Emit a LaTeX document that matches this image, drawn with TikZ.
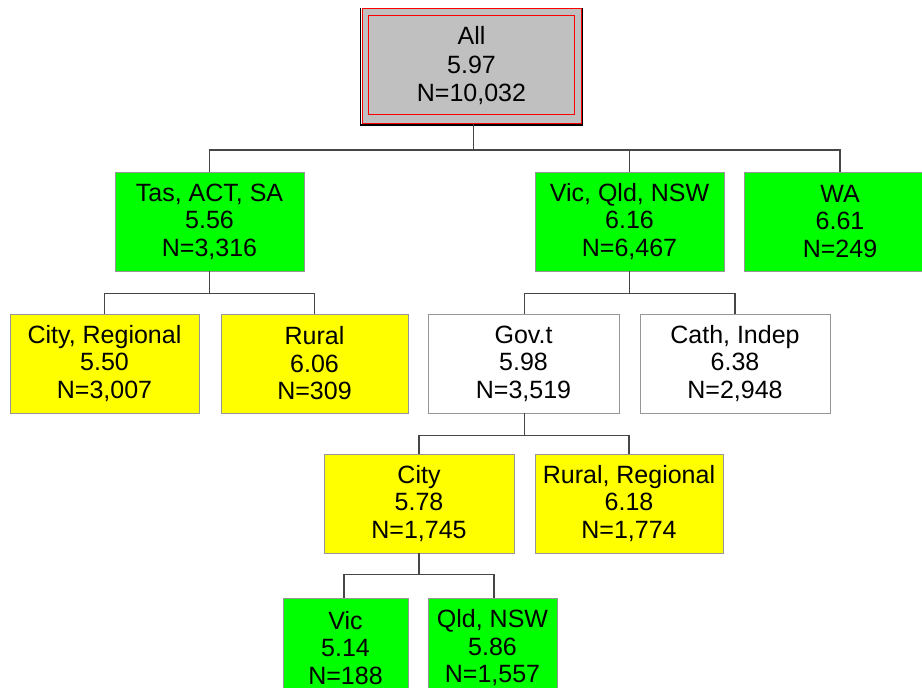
\documentclass[tikz,border=0pt]{standalone}
\usepackage{fontspec}
\setmainfont{Liberation Sans}
\usepackage{xcolor}
\usetikzlibrary{calc,positioning}
\definecolor{green}{rgb}{0.0, 1.0, 0.0}
\definecolor{yellow}{rgb}{1.0, 1.0, 0.0}
\definecolor{silver}{RGB}{192,192,192}
\definecolor{boxline}{RGB}{150,150,150}
\definecolor{linkline}{RGB}{70,70,70}

\begin{document}
\begin{tikzpicture}[x=1pt,y=1pt,
    split/.style={rectangle,draw=boxline,line width=0.9pt,inner sep=2pt,minimum width=189pt,minimum height=99pt,align=center,font=\fontsize{25}{27.5}\selectfont},
    link/.style={draw=linkline,line width=1.2pt}]
    \useasboundingbox (0,0) rectangle (922,688);
    \clip (0,0) rectangle (922,688);

    % root
    \node[split,fill=silver,draw=red,minimum width=219pt,minimum height=115pt,font=\fontsize{25}{28.5}\selectfont] (all) at (471.5,622) {All\\5.97\\N=10,032};
    \draw[black,line width=1.4pt] ([shift={(-1.2,0)}]all.north west) -- ([shift={(-1.2,-1.2)}]all.south west) -- ([shift={(1.2,-1.2)}]all.south east) -- ([shift={(1.2,0)}]all.north east);
    \draw[red,line width=1pt] ([shift={(1,0)}]all.north west) -- ([shift={(1,0)}]all.south west) -- (all.south east);
    \draw[red,line width=0.9pt] ([shift={(7,-7)}]all.north west) rectangle ([shift={(-7,9)}]all.south east);

    % level 1
    \node[split,fill=green] (tas) at (209.5,466.5) {Tas, ACT, SA\\5.56\\N=3,316};
    \node[split,fill=green] (vqn) at (629.5,466.5) {Vic, Qld, NSW\\6.16\\N=6,467};
    \node[split,fill=green,minimum width=192pt] (wa) at (840,466.5) {WA\\6.61\\N=249};

    % level 2
    \node[split,fill=yellow] (cityreg) at (104.5,324.5) {City, Regional\\5.50\\N=3,007};
    \node[split,fill=yellow,minimum width=187pt] (rural) at (314.5,324.5) {Rural\\6.06\\N=309};
    \node[split,fill=white,minimum width=191pt] (govt) at (523.5,324.5) {Gov.t\\5.98\\N=3,519};
    \node[split,fill=white,minimum width=190pt] (cath) at (735,324.5) {Cath, Indep\\6.38\\N=2,948};

    % level 3
    \node[split,fill=yellow,minimum width=190pt] (city) at (419,184.5) {City\\5.78\\N=1,745};
    \node[split,fill=yellow,minimum width=188pt] (rurreg) at (629,184.5) {Rural, Regional\\6.18\\N=1,774};

    % level 4
    \node[split,fill=green,minimum width=125pt] (vic) at (345.5,40) {Vic\\5.14\\N=188};
    \node[split,fill=green,minimum width=129pt] (qldnsw) at (492.5,40) {Qld, NSW\\5.86\\N=1,557};

    \draw[link] ([xshift=2]all.south) -- ++(0,-26) -| (tas.north);
    \draw[link] ([xshift=2]all.south) -- ++(0,-26) -| (vqn.north);
    \draw[link] ([xshift=2]all.south) -- ++(0,-26) -| (wa.north);

    \draw[link] (tas.south) -- ++(0,-22) -| (cityreg.north);
    \draw[link] (tas.south) -- ++(0,-22) -| (rural.north);

    \draw[link] (vqn.south) -- ++(0,-22) -| ([xshift=1]govt.north);
    \draw[link] (vqn.south) -- ++(0,-22) -| (cath.north);

    \draw[link] ([xshift=1]govt.south) -- ++(0,-22) -| (city.north);
    \draw[link] ([xshift=1]govt.south) -- ++(0,-22) -| (rurreg.north);

    \draw[link] (city.south) -- ++(0,-21) -| ([xshift=-1.5]vic.north);
    \draw[link] (city.south) -- ++(0,-21) -| ([xshift=1.5]qldnsw.north);
\end{tikzpicture}
\end{document}
